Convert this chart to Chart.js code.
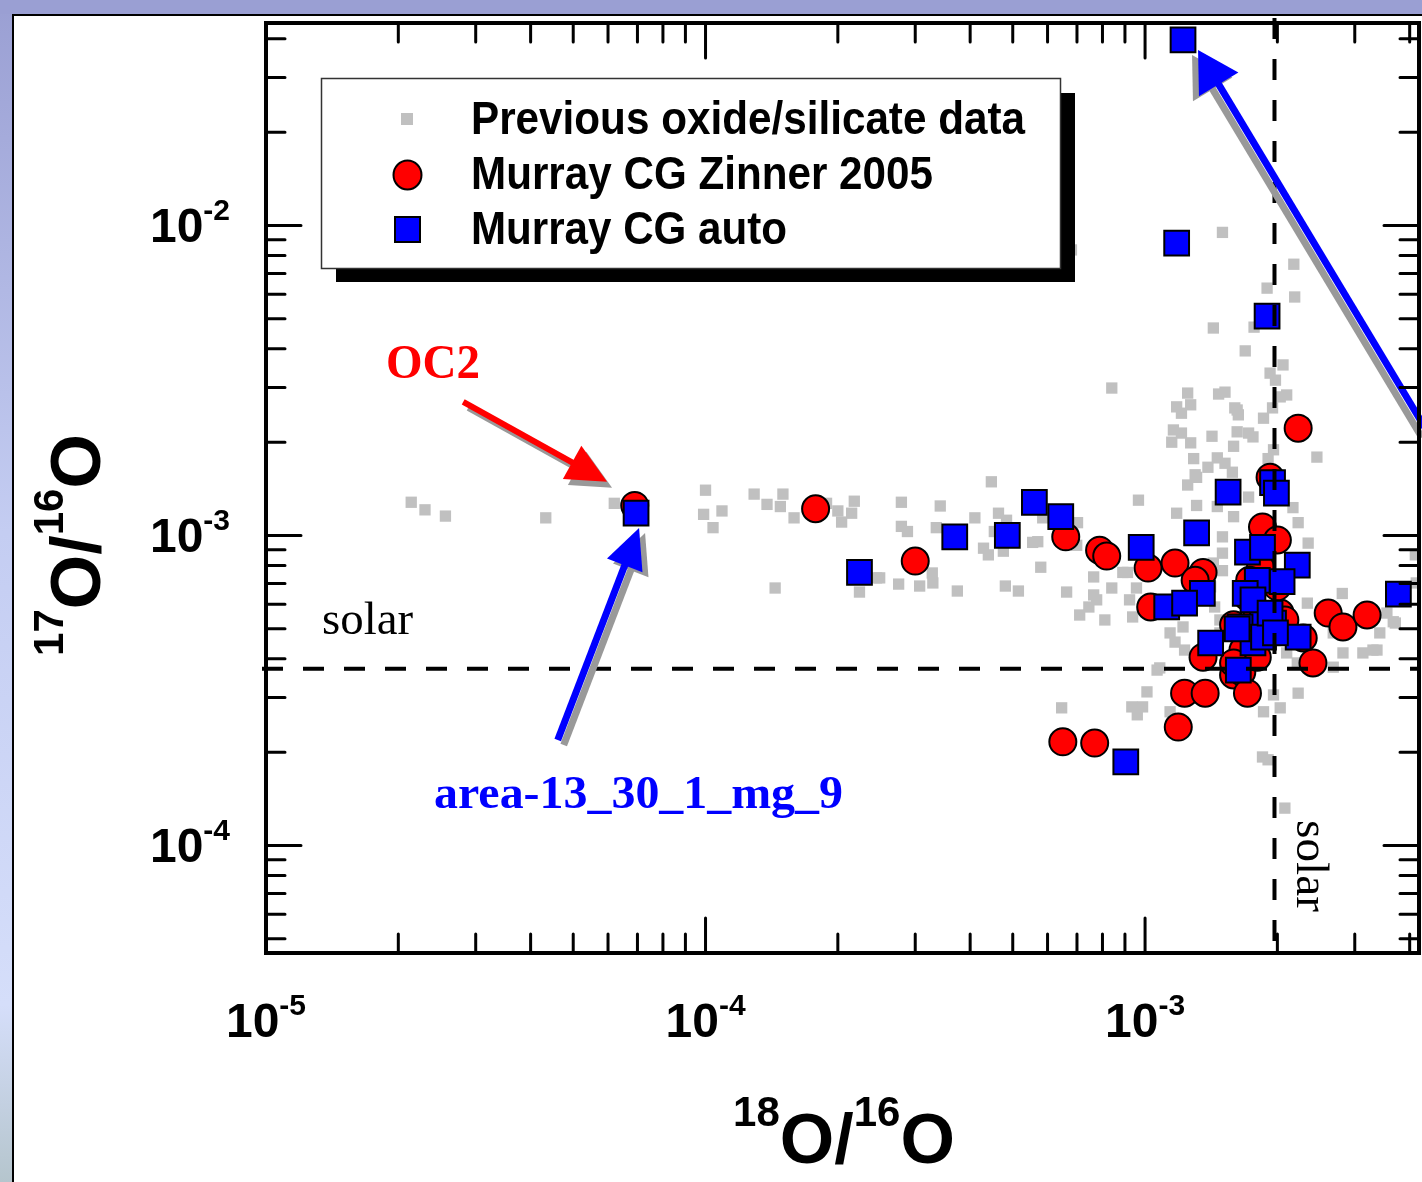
<!DOCTYPE html>
<html>
<head>
<meta charset="utf-8">
<script src="https://cdn.jsdelivr.net/npm/chart.js@4.4.0/dist/chart.umd.min.js"></script>
<style>
  html, body { margin: 0; padding: 0; background: #fff; overflow: hidden; }
  canvas { display: block; }
</style>
</head>
<body>
<canvas id="oxygenChart" width="1452" height="1182"></canvas>
<script>
// previous oxide/silicate grains (18O/16O, 17O/16O)
var previousX = [2.14e-5, 2.30e-5, 2.56e-5, 4.33e-5, 6.2e-5, 1.0e-4, 9.9e-5, 1.09e-4, 1.04e-4, 1.29e-4,
    1.38e-4, 1.50e-4, 1.48e-4, 1.59e-4, 2.0e-4, 2.04e-4, 2.18e-4, 2.15e-4, 1.885e-4, 1.44e-4,
    2.45e-4, 2.24e-4, 2.79e-4, 2.79e-4, 2.88e-4, 3.35e-4, 3.42e-4, 2.75e-4, 3.07e-4, 3.28e-4,
    3.29e-4, 3.74e-4, 4.1e-4, 4.47e-4, 4.64e-4, 4.84e-4, 4.54e-4, 4.29e-4, 4.4e-4, 4.76e-4,
    4.81e-4, 5.15e-4, 5.55e-4, 5.7e-4, 5.85e-4, 5.79e-4, 6.63e-4, 7.64e-4, 7.64e-4, 7.45e-4,
    7.02e-4, 6.99e-4, 8.4e-4, 9.66e-4, 7.76e-4, 7.1e-4, 8.1e-4, 9.12e-4, 9.56e-4, 9.37e-4,
    6.46e-4, 9.33e-4, 9.87e-4, 9.6e-4, 1.01e-3, 1.065e-3, 2.49e-4, 1.50e-3, 2.18e-3, 1.895e-3,
    2.19e-3, 1.43e-3, 1.77e-3, 1.69e-3, 2.06e-3, 1.925e-3, 1.98e-3, 1.25e-3, 1.52e-3, 1.47e-3,
    1.18e-3, 1.27e-3, 1.21e-3, 1.60e-3, 1.63e-3, 2.1e-3, 2.03e-3, 1.95e-3, 1.86e-3, 1.16e-3,
    1.21e-3, 1.42e-3, 1.62e-3, 1.72e-3, 1.76e-3, 1.15e-3, 1.27e-3, 1.59e-3, 1.96e-3, 1.29e-3,
    1.46e-3, 1.52e-3, 1.39e-3, 1.58e-3, 1.30e-3, 2.46e-3, 1.905e-3, 1.62e-3, 1.31e-3, 1.25e-3,
    1.18e-3, 1.31e-3, 1.46e-3, 1.59e-3, 1.72e-3, 2.17e-3, 2.23e-3, 2.35e-3, 1.50e-3, 1.50e-3,
    1.50e-3, 1.43e-3, 1.41e-3, 8.9e-4, 8.4e-4, 9.22e-4, 1.14e-3, 1.22e-3, 1.17e-3, 1.23e-3,
    1.15e-3, 1.44e-3, 1.48e-3, 1.48e-3, 2.34e-3, 2.81e-3, 2.68e-3, 3.55e-3, 3.71e-3, 3.42e-3,
    3.13e-3, 3.3e-3, 2.82e-3, 2.1e-3, 2.22e-3, 1.08e-3, 1.14e-3, 1.96e-3, 2.03e-3, 1.86e-3,
    2.23e-3, 1.71e-3, 1.85e-3, 1.905e-3, 2.08e-3, 3.67e-3, 3.37e-3, 2.68e-3, 6.8e-4, 4.12e-3,
    4.14e-3];
var previousY = [1.28e-3, 1.21e-3, 1.155e-3, 1.14e-3, 1.27e-3, 1.40e-3, 1.17e-3, 1.20e-3, 1.06e-3, 1.36e-3,
    1.26e-3, 1.36e-3, 1.24e-3, 1.14e-3, 1.20e-3, 1.105e-3, 1.29e-3, 1.18e-3, 1.27e-3, 6.77e-4,
    7.3e-4, 6.57e-4, 1.28e-3, 1.07e-3, 1.03e-3, 1.06e-3, 1.245e-3, 6.97e-4, 6.87e-4, 7.57e-4,
    7.03e-4, 6.62e-4, 1.14e-3, 1.49e-3, 1.18e-3, 1.12e-3, 1.03e-3, 9.1e-4, 8.66e-4, 8.9e-4,
    6.87e-4, 6.62e-4, 9.5e-4, 9.55e-4, 1.14e-3, 7.9e-4, 6.57e-4, 7.35e-4, 6.43e-4, 5.88e-4,
    1.10e-3, 9.3e-4, 2.99e-3, 1.30e-3, 6.2e-4, 5.54e-4, 5.34e-4, 7.6e-4, 6.77e-4, 5.46e-4,
    2.78e-4, 2.8e-4, 2.8e-4, 2.64e-4, 3.13e-4, 3.68e-4, 7.3e-4, 9.5e-3, 7.5e-3, 6.28e-3,
    5.88e-3, 4.67e-3, 4.7e-3, 3.94e-3, 3.55e-3, 3.34e-3, 3.17e-3, 2.88e-3, 2.9e-3, 2.86e-3,
    2.6e-3, 2.64e-3, 2.48e-3, 2.58e-3, 2.45e-3, 2.84e-3, 2.8e-3, 2.58e-3, 2.39e-3, 2.19e-3,
    2.14e-3, 2.09e-3, 2.16e-3, 2.14e-3, 2.08e-3, 2.0e-3, 1.99e-3, 1.94e-3, 1.89e-3, 1.77e-3,
    1.78e-3, 1.71e-3, 1.66e-3, 1.60e-3, 1.57e-3, 1.79e-3, 1.77e-3, 2.54e-3, 1.54e-3, 1.455e-3,
    1.18e-3, 1.25e-3, 1.24e-3, 1.15e-3, 1.33e-3, 1.23e-3, 1.10e-3, 9.45e-4, 9.9e-4, 8.77e-4,
    7.7e-4, 8.15e-4, 6.83e-4, 7.6e-4, 6.77e-4, 6.2e-4, 4.85e-4, 5.07e-4, 4.53e-4, 4.27e-4,
    5.62e-4, 5.88e-4, 5.34e-4, 4.85e-4, 6.05e-4, 6.5e-4, 4.85e-4, 5.62e-4, 5.22e-4, 4.85e-4,
    4.18e-4, 4.27e-4, 4.18e-4, 4.18e-4, 3.88e-4, 3.74e-4, 2.7e-4, 3.06e-4, 2.78e-4, 2.7e-4,
    3.1e-4, 3.68e-4, 1.93e-4, 1.89e-4, 1.32e-4, 5.27e-4, 4.27e-4, 3.76e-4, 8.34e-3, 8.66e-4,
    7.03e-4];

// Murray CG, Zinner 2005
var zinnerX = [6.9e-5, 1.78e-4, 3.0e-4, 6.6e-4, 7.88e-4, 8.18e-4, 1.016e-3, 1.17e-3, 1.355e-3, 1.30e-3,
    1.03e-3, 2.23e-3, 1.925e-3, 1.85e-3, 2.0e-3, 2.03e-3, 2.29e-3, 2.41e-3, 2.61e-3, 2.82e-3,
    3.2e-3, 1.355e-3, 1.59e-3, 1.66e-3, 1.71e-3, 1.23e-3, 1.37e-3, 1.19e-3, 7.68e-4, 6.5e-4,
    1.59e-3, 1.71e-3, 1.80e-3, 2.08e-3, 1.67e-3, 1.80e-3, 1.59e-3, 2.0e-3, 1.83e-3, 1.73e-3];
var zinnerY = [1.25e-3, 1.22e-3, 8.27e-4, 9.9e-4, 8.97e-4, 8.58e-4, 7.85e-4, 8.15e-4, 7.6e-4, 7.17e-4,
    5.88e-4, 2.22e-3, 1.54e-3, 1.065e-3, 9.67e-4, 5.62e-4, 4.67e-4, 3.88e-4, 5.62e-4, 5.07e-4,
    5.54e-4, 4.05e-4, 3.55e-4, 3.63e-4, 3.1e-4, 3.1e-4, 3.1e-4, 2.41e-4, 2.14e-4, 2.16e-4,
    5.15e-4, 6.33e-4, 5.62e-4, 5.34e-4, 4.27e-4, 4.05e-4, 3.88e-4, 6.83e-4, 7.9e-4, 7.17e-4];

// Murray CG, automated search
var autoX = [1.22e-3, 1.18e-3, 1.895e-3, 1.545e-3, 1.95e-3, 1.99e-3, 1.31e-3, 9.8e-4, 6.43e-4, 5.6e-4,
    4.86e-4, 3.69e-4, 2.24e-4, 6.95e-5, 9.04e-4, 3.77e-3, 1.71e-3, 1.85e-3, 2.22e-3, 2.05e-3,
    1.80e-3, 1.35e-3, 1.12e-3, 1.23e-3, 1.69e-3, 1.85e-3, 1.645e-3, 1.96e-3, 2.23e-3, 1.76e-3,
    1.41e-3, 1.63e-3, 1.86e-3, 1.62e-3, 1.76e-3, 1.925e-3, 1.98e-3];
var autoY = [3.97e-2, 8.77e-3, 5.1e-3, 1.38e-3, 1.48e-3, 1.37e-3, 1.02e-3, 9.15e-4, 1.15e-3, 1.28e-3,
    1.0e-3, 9.9e-4, 7.6e-4, 1.18e-3, 1.86e-4, 6.47e-4, 8.83e-4, 9.15e-4, 8.03e-4, 7.1e-4,
    7.17e-4, 6.5e-4, 5.88e-4, 6.05e-4, 6.5e-4, 5.27e-4, 5.07e-4, 5.22e-4, 4.7e-4, 4.5e-4,
    4.5e-4, 3.68e-4, 4.7e-4, 5.0e-4, 6.2e-4, 5.62e-4, 4.85e-4];

var xTicks = [1e-5, 1e-4, 1e-3];
var yTicks = [1e-4, 1e-3, 1e-2];
var solarX = 1.97e-3;
var solarY = 3.72e-4;

var SANS = "'Liberation Sans', Arial, sans-serif";
var SERIF = "'Liberation Serif', 'Times New Roman', serif";

function pairs(xs, ys) {
    return xs.map(function (x, i) { return { x: x, y: ys[i] }; });
}

function fitText(ctx, text, x, y, font, width, color) {
    ctx.save();
    ctx.font = font;
    ctx.fillStyle = color;
    ctx.textAlign = 'left';
    ctx.textBaseline = 'alphabetic';
    var w = ctx.measureText(text).width;
    ctx.translate(x, y);
    ctx.scale(width / w, 1);
    ctx.fillText(text, 0, 0);
    ctx.restore();
}

// "10" with a raised exponent; align is 'center' or 'right'
function drawPower(ctx, base, exp, x, y, align) {
    ctx.save();
    ctx.fillStyle = '#000';
    ctx.textBaseline = 'alphabetic';
    ctx.textAlign = 'left';
    ctx.font = 'bold 48px ' + SANS;
    var wb = ctx.measureText(base).width;
    ctx.font = 'bold 30px ' + SANS;
    var we = ctx.measureText(exp).width;
    var start = align === 'right' ? x - wb - we : x - (wb + we) / 2;
    ctx.font = 'bold 48px ' + SANS;
    ctx.fillText(base, start, y);
    ctx.font = 'bold 30px ' + SANS;
    ctx.fillText(exp, start + wb, y - 22);
    ctx.restore();
}

// axis title with superscripts, centred on the origin along the baseline
function drawTitle(ctx, parts) {
    var big = 'bold 70px ' + SANS, small = 'bold 42px ' + SANS;
    var total = 0;
    parts.forEach(function (p) {
        ctx.font = p.sup ? small : big;
        p.w = ctx.measureText(p.t).width;
        total += p.w;
    });
    var pos = -total / 2;
    ctx.fillStyle = '#000';
    ctx.textAlign = 'left';
    ctx.textBaseline = 'alphabetic';
    parts.forEach(function (p) {
        ctx.font = p.sup ? small : big;
        ctx.fillText(p.t, pos, p.sup ? -37 : 0);
        pos += p.w;
    });
}

function drawArrow(ctx, x1, y1, x2, y2, color, lw, headLen, headHalf) {
    var ang = Math.atan2(y2 - y1, x2 - x1);
    var bx = x2 - headLen * Math.cos(ang), by = y2 - headLen * Math.sin(ang);
    ctx.strokeStyle = color;
    ctx.lineWidth = lw;
    ctx.lineCap = 'butt';
    ctx.beginPath();
    ctx.moveTo(x1, y1);
    ctx.lineTo(bx + 2 * Math.cos(ang), by + 2 * Math.sin(ang));
    ctx.stroke();
    ctx.fillStyle = color;
    ctx.beginPath();
    ctx.moveTo(x2, y2);
    ctx.lineTo(bx + headHalf * Math.sin(ang), by - headHalf * Math.cos(ang));
    ctx.lineTo(bx - headHalf * Math.sin(ang), by + headHalf * Math.cos(ang));
    ctx.closePath();
    ctx.fill();
}

// arrows pointing at grains, in data coordinates
var arrows = [
    { from: [2.81e-5, 2.7e-3], to: [5.97e-5, 1.49e-3], color: '#ff0000', shadow: [5, 6], lw: 6, head: 40, half: 19 },
    { from: [4.61e-5, 2.19e-4], to: [7.06e-5, 1.057e-3], color: '#0000ff', shadow: [6, 5], lw: 7, head: 40, half: 19 },
    { from: [4.4e-3, 2.15e-3], to: [1.32e-3, 3.68e-2], color: '#0000ff', shadow: [-6, 5], lw: 7, head: 40, half: 23 }
];

var chartDecor = {
    id: 'chartDecor',
    beforeDraw: function (chart) {
        var ctx = chart.ctx, W = chart.width, H = chart.height;
        ctx.save();
        ctx.fillStyle = '#fff';
        ctx.fillRect(0, 0, W, H);
        ctx.fillStyle = '#9a9fd3';
        ctx.fillRect(0, 0, W, 14);
        var g = ctx.createLinearGradient(0, 0, 0, H);
        g.addColorStop(0, '#9a9fd3');
        g.addColorStop(0.45, '#c4cdf2');
        g.addColorStop(0.85, '#d5defa');
        g.addColorStop(1, '#b5c5cd');
        ctx.fillStyle = g;
        ctx.fillRect(0, 14, 12, H - 14);
        ctx.fillStyle = '#000';
        ctx.fillRect(12, 14, W - 12, 2);
        ctx.fillRect(12, 14, 2, H - 14);
        ctx.restore();
    },
    afterDatasetsDraw: function (chart) {
        var ctx = chart.ctx, a = chart.chartArea;
        var xs = chart.scales.x, ys = chart.scales.y;
        ctx.save();

        // solar reference lines
        ctx.strokeStyle = '#000';
        ctx.lineWidth = 4;
        ctx.lineCap = 'butt';
        ctx.setLineDash([21, 20]);
        var sy = ys.getPixelForValue(solarY);
        ctx.beginPath();
        ctx.moveTo(a.left - 4, sy);
        ctx.lineTo(a.right, sy);
        ctx.stroke();
        var sx = xs.getPixelForValue(solarX);
        ctx.beginPath();
        ctx.moveTo(sx, a.top - 5);
        ctx.lineTo(sx, a.bottom);
        ctx.stroke();
        ctx.setLineDash([]);

        // arrows
        arrows.forEach(function (ar) {
            var x1 = xs.getPixelForValue(ar.from[0]), y1 = ys.getPixelForValue(ar.from[1]);
            var x2 = xs.getPixelForValue(ar.to[0]), y2 = ys.getPixelForValue(ar.to[1]);
            drawArrow(ctx, x1 + ar.shadow[0], y1 + ar.shadow[1], x2 + ar.shadow[0], y2 + ar.shadow[1], '#999999', ar.lw, ar.head, ar.half);
            drawArrow(ctx, x1, y1, x2, y2, ar.color, ar.lw, ar.head, ar.half);
        });

        // frame
        ctx.strokeStyle = '#000';
        ctx.lineWidth = 4;
        ctx.strokeRect(a.left, a.top, a.right - a.left, a.bottom - a.top);

        // inward ticks on all four sides
        ctx.lineWidth = 3;
        ctx.lineCap = 'round';
        function tickSet(scale) {
            var out = [];
            var lo = Math.floor(Math.log10(scale.min)), hi = Math.ceil(Math.log10(scale.max));
            for (var e = lo; e <= hi; e++) {
                for (var m = 1; m <= 9; m++) {
                    var v = m * Math.pow(10, e);
                    if (v >= scale.min * 0.999 && v <= scale.max * 1.001) out.push({ v: v, major: m === 1 });
                }
            }
            return out;
        }
        tickSet(xs).forEach(function (t) {
            var px = xs.getPixelForValue(t.v), len = t.major ? 35 : 19;
            ctx.beginPath();
            ctx.moveTo(px, a.bottom); ctx.lineTo(px, a.bottom - len);
            ctx.moveTo(px, a.top); ctx.lineTo(px, a.top + len);
            ctx.stroke();
        });
        tickSet(ys).forEach(function (t) {
            var py = ys.getPixelForValue(t.v), len = t.major ? 35 : 19;
            ctx.beginPath();
            ctx.moveTo(a.left, py); ctx.lineTo(a.left + len, py);
            ctx.moveTo(a.right, py); ctx.lineTo(a.right - len, py);
            ctx.stroke();
        });

        // tick labels
        xTicks.forEach(function (v) {
            drawPower(ctx, '10', String(Math.round(Math.log10(v))), xs.getPixelForValue(v), 1037, 'center');
        });
        yTicks.forEach(function (v) {
            drawPower(ctx, '10', String(Math.round(Math.log10(v))), 230, ys.getPixelForValue(v) + 17, 'right');
        });

        // axis titles
        ctx.save();
        ctx.translate(844, 1163);
        drawTitle(ctx, [{ t: '18', sup: true }, { t: 'O/' }, { t: '16', sup: true }, { t: 'O' }]);
        ctx.restore();
        ctx.save();
        ctx.translate(100, 545);
        ctx.rotate(-Math.PI / 2);
        drawTitle(ctx, [{ t: '17', sup: true }, { t: 'O/' }, { t: '16', sup: true }, { t: 'O' }]);
        ctx.restore();

        // annotations
        fitText(ctx, 'OC2', 386, 378, 'bold 48px ' + SERIF, 94, '#ff0000');
        fitText(ctx, 'area-13_30_1_mg_9', 434, 808, 'bold 46px ' + SERIF, 409, '#0000ff');
        fitText(ctx, 'solar', 322, 634, '46px ' + SERIF, 91, '#000');
        ctx.save();
        ctx.translate(1297, 820);
        ctx.rotate(Math.PI / 2);
        fitText(ctx, 'solar', 0, 0, '46px ' + SERIF, 92, '#000');
        ctx.restore();

        // legend box with drop shadow
        ctx.fillStyle = '#000';
        ctx.fillRect(336, 93, 739, 189);
        ctx.fillStyle = '#fff';
        ctx.fillRect(321, 78, 739, 190);
        ctx.strokeStyle = '#333';
        ctx.lineWidth = 1.5;
        ctx.strokeRect(321.5, 78.5, 739, 190);

        var rows = chart.data.datasets;
        var baselines = [134, 189, 244];
        var widths = [554, 462, 316];
        rows.forEach(function (ds, i) {
            var cy = baselines[i] - 15;
            ctx.fillStyle = ds.backgroundColor;
            ctx.strokeStyle = '#000';
            ctx.lineWidth = 2;
            if (i === 0) {
                ctx.fillRect(401, cy - 6, 12, 12);
            } else if (i === 1) {
                ctx.beginPath();
                ctx.ellipse(407.5, cy + 1, 14, 14.5, 0, 0, Math.PI * 2);
                ctx.fill(); ctx.stroke();
            } else {
                ctx.fillRect(395, cy - 12, 25, 25);
                ctx.strokeRect(395, cy - 12, 25, 25);
            }
            fitText(ctx, ds.label, 471, baselines[i], 'bold 46px ' + SANS, widths[i], '#000');
        });

        ctx.restore();
    }
};

var ctx = document.getElementById('oxygenChart').getContext('2d');
var oxygenChart = new Chart(ctx, {
    type: 'scatter',
    data: {
        datasets: [{
            label: 'Previous oxide/silicate data',
            data: pairs(previousX, previousY),
            pointStyle: 'rect',
            pointRadius: 8,
            pointHoverRadius: 8,
            backgroundColor: '#c0c0c0',
            borderWidth: 0,
            order: 3
        }, {
            label: 'Murray CG Zinner 2005',
            data: pairs(zinnerX, zinnerY),
            pointStyle: 'circle',
            pointRadius: 13.5,
            pointHoverRadius: 13.5,
            backgroundColor: '#ff0000',
            borderColor: '#000',
            borderWidth: 2,
            order: 2
        }, {
            label: 'Murray CG auto',
            data: pairs(autoX, autoY),
            pointStyle: 'rect',
            pointRadius: 17.5,
            pointHoverRadius: 17.5,
            backgroundColor: '#0000ff',
            borderColor: '#000',
            borderWidth: 2,
            order: 1
        }]
    },
    options: {
        responsive: false,
        animation: false,
        events: [],
        // right padding keeps the frame at x = 1419 inside a 1452 px canvas
        layout: { padding: { left: 266, top: 23, right: 33, bottom: 229 } },
        scales: {
            x: { type: 'logarithmic', min: 1e-5, max: 4.2e-3, display: false },
            y: { type: 'logarithmic', min: 4.5e-5, max: 4.5e-2, display: false }
        },
        plugins: {
            legend: { display: false },
            tooltip: { enabled: false }
        }
    },
    plugins: [chartDecor]
});
</script>
</body>
</html>
